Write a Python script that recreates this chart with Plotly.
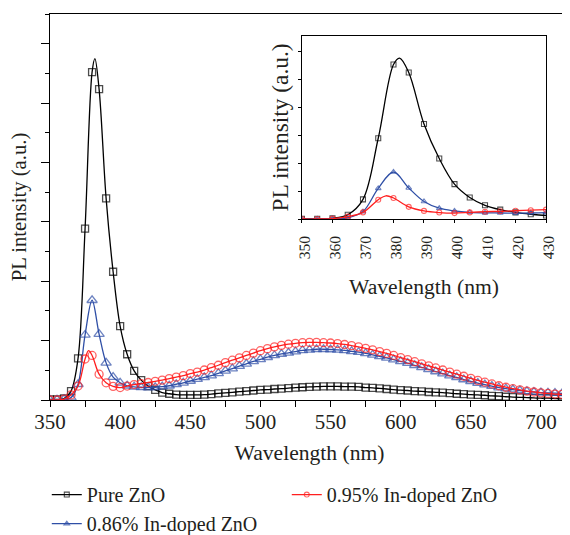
import plotly.graph_objects as go

# wavelength grid of markers (nm)
wavelength = list(range(350, 721, 5))

pure_zno = [0.02, 0.02, 0.05, 0.3, 1.4, 5.77, 11.04, 10.47, 6.79, 4.32,
            2.49, 1.54, 0.98, 0.67, 0.47, 0.34, 0.25, 0.21, 0.18, 0.17,
            0.17, 0.17, 0.18, 0.2, 0.22, 0.24, 0.26, 0.28, 0.3, 0.32,
            0.34, 0.35, 0.37, 0.38, 0.4, 0.42, 0.43, 0.44, 0.45, 0.46,
            0.46, 0.46, 0.45, 0.45, 0.44, 0.42, 0.41, 0.39, 0.37, 0.35,
            0.33, 0.32, 0.3, 0.29, 0.27, 0.26, 0.25, 0.23, 0.21, 0.2,
            0.18, 0.17, 0.16, 0.14, 0.13, 0.11, 0.1, 0.09, 0.08, 0.07,
            0.06, 0.06, 0.05, 0.04, 0.04]

in_086 = [0.0, 0.01, 0.02, 0.08, 0.53, 2.19, 3.36, 2.22, 1.25, 0.77,
          0.58, 0.48, 0.44, 0.43, 0.42, 0.43, 0.45, 0.48, 0.53, 0.58,
          0.64, 0.7, 0.76, 0.82, 0.9, 0.98, 1.06, 1.14, 1.22, 1.3,
          1.37, 1.44, 1.5, 1.55, 1.59, 1.63, 1.67, 1.69, 1.71, 1.71,
          1.7, 1.69, 1.67, 1.64, 1.61, 1.57, 1.52, 1.47, 1.42, 1.36,
          1.3, 1.24, 1.17, 1.1, 1.03, 0.96, 0.89, 0.82, 0.76, 0.69,
          0.63, 0.57, 0.52, 0.47, 0.42, 0.38, 0.35, 0.32, 0.29, 0.27,
          0.25, 0.24, 0.23, 0.22, 0.21]

in_095 = [0.0, 0.0, 0.03, 0.17, 0.47, 1.38, 1.5, 0.87, 0.58, 0.46,
          0.42, 0.47, 0.52, 0.55, 0.59, 0.63, 0.67, 0.72, 0.77, 0.82,
          0.89, 0.94, 1.01, 1.09, 1.17, 1.26, 1.34, 1.42, 1.5, 1.58,
          1.66, 1.73, 1.79, 1.84, 1.88, 1.91, 1.93, 1.94, 1.94, 1.93,
          1.92, 1.9, 1.87, 1.83, 1.79, 1.74, 1.69, 1.63, 1.57, 1.5,
          1.43, 1.36, 1.29, 1.22, 1.15, 1.08, 1.01, 0.94, 0.87, 0.8,
          0.73, 0.66, 0.6, 0.54, 0.48, 0.43, 0.38, 0.34, 0.3, 0.27,
          0.24, 0.22, 0.2, 0.19, 0.18]

# curve apexes that fall between markers
pure_peak_wl, pure_peak_val = [382], [11.5]
in_086_peak_wl, in_086_peak_val = [], []
in_095_peak_wl, in_095_peak_val = [377.5], [1.66]

series_names = ["Pure ZnO", "0.86% In-doped ZnO", "0.95% In-doped ZnO"]
FONT = "Liberation Serif"
TXT = "#231f20"

styles = [
    (pure_zno, pure_peak_wl, pure_peak_val, "#000000", "square-open", 7, 1),
    (in_086, in_086_peak_wl, in_086_peak_val, "#2f4fa6", "triangle-up-open", 9, 3),
    (in_095, in_095_peak_wl, in_095_peak_val, "#ff1f1f", "circle-open", 8, 2),
]


def merged(vals, pwl, pval, msize):
    pts = [(w, v, msize) for w, v in zip(wavelength, vals)]
    pts += [(w, v, 0) for w, v in zip(pwl, pval)]
    pts.sort(key=lambda p: p[0])
    return [p[0] for p in pts], [p[1] for p in pts], [p[2] for p in pts]


fig = go.Figure()
for (vals, pwl, pval, color, sym, msize, rank), name in zip(styles, series_names):
    xs, ys, ss = merged(vals, pwl, pval, msize)
    fig.add_trace(go.Scatter(
        x=xs, y=ys, mode="lines+markers", name=name,
        line=dict(color=color, width=1.3, shape="spline", smoothing=1),
        marker=dict(symbol=sym, size=ss, color=color, line=dict(width=1.3, color=color)),
        showlegend=False, xaxis="x", yaxis="y"))
for (vals, pwl, pval, color, sym, msize, rank), name in zip(styles, series_names):
    xs, ys, ss = merged(vals, pwl, pval, 5)
    fig.add_trace(go.Scatter(
        x=xs, y=ys, mode="lines+markers", name=name,
        line=dict(color=color, width=1.3, shape="spline", smoothing=1),
        marker=dict(symbol=sym, size=ss, color=color, line=dict(width=1.1, color=color)),
        showlegend=True, legendrank=rank, xaxis="x2", yaxis="y2"))

axis_common = dict(showline=True, mirror=True, linecolor="#000", linewidth=1.4,
                   showgrid=False, zeroline=False, ticks="outside",
                   tickcolor="#000", tickwidth=1.3, automargin=False)

fig.update_layout(
    width=562, height=527,
    margin=dict(l=42, r=1, t=6, b=135, autoexpand=False),
    paper_bgcolor="white", plot_bgcolor="white",
    font=dict(family=FONT, color=TXT, size=20),
    xaxis=dict(**axis_common, domain=[0, 1], range=[350, 720], tick0=350, dtick=50,
               ticklen=6, tickfont=dict(size=21), ticklabelstandoff=-3,
               minor=dict(dtick=25, ticks="outside", ticklen=6, tickcolor="#000", tickwidth=1.3),
               title=dict(text="Wavelength (nm)", font=dict(size=21.6), standoff=11)),
    yaxis=dict(**axis_common, domain=[0, 1], range=[0, 13], dtick=2, ticklen=8,
               showticklabels=False,
               minor=dict(dtick=1, ticks="outside", ticklen=4, tickcolor="#000", tickwidth=1.3),
               title=dict(text="PL intensity (a.u.)", font=dict(size=20.7), standoff=9)),
    xaxis2=dict(**axis_common, domain=[0.4855, 0.9557], anchor="y2", range=[350, 430],
                dtick=10, tick0=350, tickangle=-89.9, ticklen=3, tickfont=dict(size=15.5),
                ticklabelstandoff=2,
                title=dict(text="Wavelength (nm)", font=dict(size=21.6), standoff=20)),
    yaxis2=dict(**axis_common, domain=[0.4689, 0.9438], anchor="x2", range=[0, 13.1],
                dtick=2, ticklen=3, showticklabels=False,
                title=dict(text="PL intensity (a.u.)", font=dict(size=23.4), standoff=2)),
    legend=dict(orientation="h", x=-0.0062, xanchor="left", y=-0.1945, yanchor="top",
                entrywidth=195, entrywidthmode="pixels", font=dict(size=20, color=TXT),
                bgcolor="rgba(0,0,0,0)", tracegroupgap=0, itemwidth=30),
)

fig.write_html("out.html")
